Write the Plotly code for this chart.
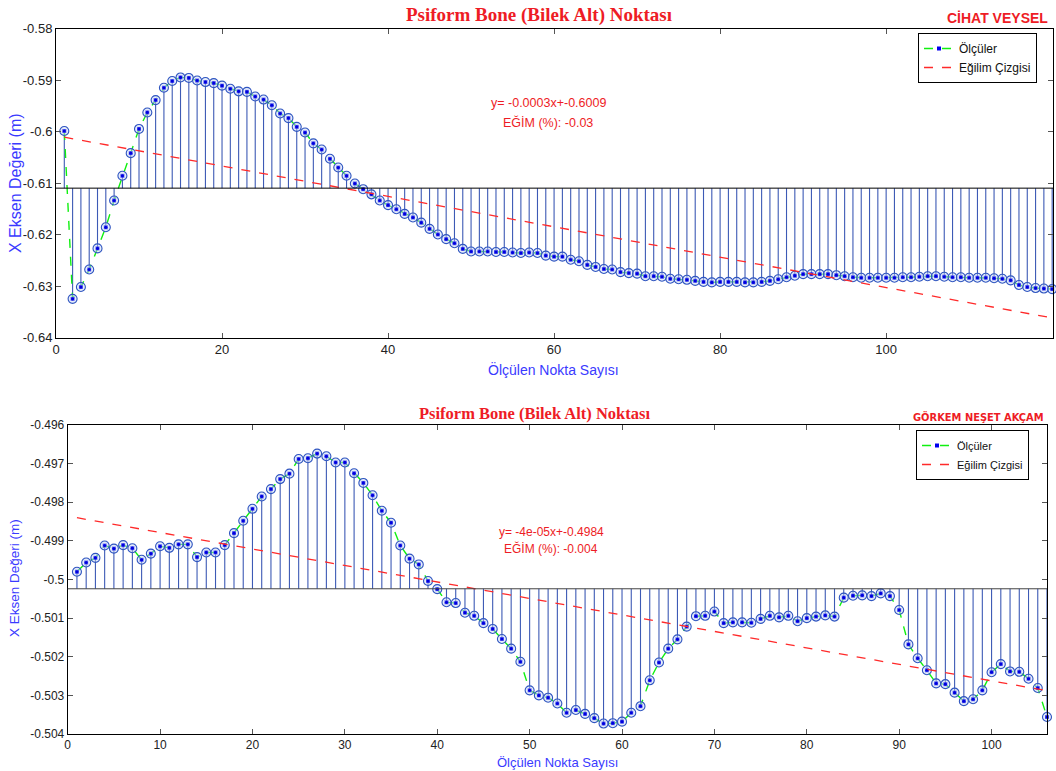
import plotly.graph_objects as go

# ---------------- DATA ----------------
TOP_VALUES = [
    -0.5999, -0.6325, -0.6302, -0.6268, -0.6227, -0.6186, -0.6134, -0.6086, -0.6042, -0.5995,
    -0.5963, -0.5939, -0.5915, -0.5902, -0.5895, -0.5896, -0.5901, -0.5904, -0.5906, -0.5911,
    -0.5917, -0.5922, -0.5923, -0.5932, -0.5938, -0.5949, -0.5965, -0.5974, -0.5991, -0.6002,
    -0.6023, -0.6035, -0.6053, -0.6070, -0.6086, -0.6101, -0.6112, -0.6122, -0.6134, -0.6143,
    -0.6151, -0.6160, -0.6167, -0.6177, -0.6189, -0.6200, -0.6209, -0.6217, -0.6228, -0.6233,
    -0.6233, -0.6233, -0.6234, -0.6234, -0.6235, -0.6236, -0.6235, -0.6236, -0.6241, -0.6243,
    -0.6243, -0.6249, -0.6252, -0.6259, -0.6263, -0.6267, -0.6268, -0.6273, -0.6275, -0.6276,
    -0.6281, -0.6281, -0.6282, -0.6286, -0.6287, -0.6288, -0.6290, -0.6292, -0.6293, -0.6292,
    -0.6292, -0.6292, -0.6293, -0.6293, -0.6292, -0.6290, -0.6287, -0.6283, -0.6280, -0.6277,
    -0.6277, -0.6277, -0.6277, -0.6279, -0.6281, -0.6283, -0.6284, -0.6284, -0.6284, -0.6284,
    -0.6284, -0.6283, -0.6283, -0.6282, -0.6281, -0.6281, -0.6282, -0.6283, -0.6283, -0.6284,
    -0.6284, -0.6284, -0.6285, -0.6286, -0.6289, -0.6298, -0.6302, -0.6304, -0.6305, -0.6306,
]
TOP_X = list(range(1, len(TOP_VALUES) + 1))
TOP_BASE = -0.6110
TOP_TREND_X = [1, 120]
TOP_TREND_Y = [-0.6011, -0.6362]
TOP_YTICKS = [-0.64, -0.63, -0.62, -0.61, -0.60, -0.59, -0.58]
TOP_YTICKTEXT = ["-0.64", "-0.63", "-0.62", "-0.61", "-0.6", "-0.59", "-0.58"]
TOP_XTICKS = [0, 20, 40, 60, 80, 100, 120]

BOT_VALUES = [
    -0.49980, -0.49956, -0.49944, -0.49912, -0.49920, -0.49911, -0.49919, -0.49949, -0.49933, -0.49914,
    -0.49918, -0.49909, -0.49909, -0.49942, -0.49930, -0.49930, -0.49911, -0.49880, -0.49848, -0.49817,
    -0.49785, -0.49766, -0.49740, -0.49726, -0.49688, -0.49686, -0.49674, -0.49681, -0.49697, -0.49697,
    -0.49725, -0.49750, -0.49782, -0.49822, -0.49853, -0.49912, -0.49946, -0.49961, -0.50004, -0.50025,
    -0.50059, -0.50061, -0.50086, -0.50094, -0.50113, -0.50128, -0.50154, -0.50179, -0.50213, -0.50287,
    -0.50300, -0.50306, -0.50321, -0.50345, -0.50338, -0.50348, -0.50359, -0.50373, -0.50372, -0.50368,
    -0.50345, -0.50328, -0.50261, -0.50215, -0.50179, -0.50155, -0.50122, -0.50095, -0.50094, -0.50083,
    -0.50113, -0.50111, -0.50111, -0.50112, -0.50102, -0.50094, -0.50098, -0.50094, -0.50108, -0.50100,
    -0.50096, -0.50093, -0.50096, -0.50047, -0.50042, -0.50041, -0.50043, -0.50036, -0.50043, -0.50079,
    -0.50168, -0.50204, -0.50235, -0.50269, -0.50271, -0.50293, -0.50315, -0.50310, -0.50287, -0.50240,
    -0.50219, -0.50238, -0.50239, -0.50257, -0.50281, -0.50356,
]
BOT_X = list(range(1, len(BOT_VALUES) + 1))
BOT_BASE = -0.50024
BOT_TREND_X = [1, 106]
BOT_TREND_Y = [-0.49840, -0.50288]
BOT_YTICKS = [-0.504, -0.503, -0.502, -0.501, -0.500, -0.499, -0.498, -0.497, -0.496]
BOT_YTICKTEXT = ["-0.504", "-0.503", "-0.502", "-0.501", "-0.5", "-0.499", "-0.498", "-0.497", "-0.496"]
BOT_XTICKS = [0, 10, 20, 30, 40, 50, 60, 70, 80, 90, 100]

TITLE = "Psiform Bone (Bilek Alt) Noktası"
TOP_AUTHOR = "CİHAT VEYSEL"
BOT_AUTHOR = "GÖRKEM NEŞET AKÇAM"
TOP_FIT = ["y= -0.0003x+-0.6009", "EĞİM (%): -0.03"]
BOT_FIT = ["y= -4e-05x+-0.4984", "EĞİM (%): -0.004"]
XLABEL = "Ölçülen Nokta Sayısı"
YLABEL = "X Eksen Değeri (m)"
LEG_MEAS = "Ölçüler"
LEG_TREND = "Eğilim Çizgisi"

# ---------------- LAYOUT HELPERS ----------------
W, H = 1056, 771


def fx(px):
    return px / W


def fy(py):
    return 1 - py / H


RED = "#ee1c25"
BLUE_TXT = "#3a3aff"
STEM = "#3d5ab5"
GREEN = "#10f010"
TREND_RED = "#ff2a2a"

fig = go.Figure()


def add_panel(xv, yv, base, tx, ty, xa, ya, legend):
    sx, sy = [], []
    for x, y in zip(xv, yv):
        sx += [x, x, None]
        sy += [base, y, None]
    fig.add_trace(go.Scatter(x=sx, y=sy, mode="lines", line=dict(color=STEM, width=1.1),
                             showlegend=False, hoverinfo="skip", xaxis=xa, yaxis=ya))
    fig.add_trace(go.Scatter(x=xv, y=yv, mode="lines+markers", name=LEG_MEAS,
                             line=dict(color=GREEN, width=1.4, dash="dash"),
                             marker=dict(color="#0000ee", size=4, symbol="square"),
                             legend=legend, xaxis=xa, yaxis=ya, cliponaxis=False))
    fig.add_trace(go.Scatter(x=xv, y=yv, mode="markers", showlegend=False,
                             marker=dict(size=9, color="rgba(200,215,245,0.45)",
                                         line=dict(color="#2f55c0", width=1.1)),
                             xaxis=xa, yaxis=ya, cliponaxis=False))
    fig.add_trace(go.Scatter(x=xv, y=yv, mode="markers", showlegend=False,
                             marker=dict(size=3.2, color="#0000dd"),
                             xaxis=xa, yaxis=ya, cliponaxis=False))
    fig.add_trace(go.Scatter(x=tx, y=ty, mode="lines", name=LEG_TREND,
                             line=dict(color=TREND_RED, width=1.3, dash="dash"),
                             legend=legend, xaxis=xa, yaxis=ya))


add_panel(TOP_X, TOP_VALUES, TOP_BASE, TOP_TREND_X, TOP_TREND_Y, "x", "y", "legend")
add_panel(BOT_X, BOT_VALUES, BOT_BASE, BOT_TREND_X, BOT_TREND_Y, "x2", "y2", "legend2")


def axis_style(size):
    return dict(showline=True, linecolor="black", linewidth=1, mirror="ticks",
                ticks="inside", ticklen=5, tickcolor="#555555", showgrid=False,
                zeroline=False, automargin=False,
                tickfont=dict(family="Liberation Sans", color="#222222", size=size))


fig.update_layout(
    width=W, height=H, margin=dict(l=0, r=0, t=0, b=0, pad=0), autosize=False,
    paper_bgcolor="white", plot_bgcolor="white",
    xaxis=dict(domain=[fx(56), fx(1053)], range=[0, 120.1], tickvals=TOP_XTICKS,
               anchor="y", **axis_style(13)),
    yaxis=dict(domain=[fy(337.5), fy(28.5)], range=[-0.64, -0.58], tickvals=TOP_YTICKS,
               ticktext=TOP_YTICKTEXT, anchor="x", **axis_style(13)),
    xaxis2=dict(domain=[fx(67.7), fx(1047)], range=[0, 106], tickvals=BOT_XTICKS,
                anchor="y2", **axis_style(12)),
    yaxis2=dict(domain=[fy(734), fy(425)], range=[-0.504, -0.496], tickvals=BOT_YTICKS,
                ticktext=BOT_YTICKTEXT, anchor="x2", **axis_style(12)),
    legend=dict(x=fx(918), y=fy(33), xanchor="left", yanchor="top", bgcolor="white",
                bordercolor="black", borderwidth=1, font=dict(family="Liberation Sans", size=12, color="#111"),
                tracegroupgap=0, itemwidth=30),
    legend2=dict(x=fx(916), y=fy(430), xanchor="left", yanchor="top", bgcolor="white",
                 bordercolor="black", borderwidth=1, font=dict(family="Liberation Sans", size=11, color="#111"),
                 tracegroupgap=0, itemwidth=30),
    showlegend=True,
)

# baselines
fig.add_shape(type="line", xref="x domain", yref="y", x0=0, x1=1, y0=TOP_BASE, y1=TOP_BASE,
              line=dict(color="black", width=1))
fig.add_shape(type="line", xref="x2 domain", yref="y2", x0=0, x1=1, y0=BOT_BASE, y1=BOT_BASE,
              line=dict(color="#444444", width=1))


def ann(text, px, py, size, color, family="Liberation Sans", xanchor="center", angle=0):
    fig.add_annotation(text=text, x=fx(px), y=fy(py), xref="paper", yref="paper",
                       xanchor=xanchor, yanchor="middle", showarrow=False, textangle=angle,
                       font=dict(family=family, size=size, color=color))


# top panel texts
ann("<b>" + TITLE + "</b>", 539, 15, 19, RED, family="Liberation Serif")
ann("<b>" + TOP_AUTHOR + "</b>", 1050, 18, 14, RED, xanchor="right")
ann(TOP_FIT[0], 548, 103, 12.5, RED)
ann(TOP_FIT[1], 548, 123, 12.5, RED)
ann(XLABEL, 553, 369, 14, BLUE_TXT)
ann(YLABEL, 15, 183, 16, BLUE_TXT, angle=-90)

# bottom panel texts
ann("<b>" + TITLE + "</b>", 534, 413, 16.5, RED, family="Liberation Serif")
ann("<b>" + BOT_AUTHOR + "</b>", 1046, 417, 11, RED,
    family="DejaVu Sans Condensed, Liberation Sans", xanchor="right")
ann(BOT_FIT[0], 551, 532, 12, RED)
ann(BOT_FIT[1], 551, 548, 12, RED)
ann(XLABEL, 557, 762, 13, BLUE_TXT)
ann(YLABEL, 14, 578, 13.5, BLUE_TXT, angle=-90)

fig.write_html("out.html", config={"displayModeBar": False},
               post_script="document.body.style.margin='0';document.body.style.overflow='hidden';")
